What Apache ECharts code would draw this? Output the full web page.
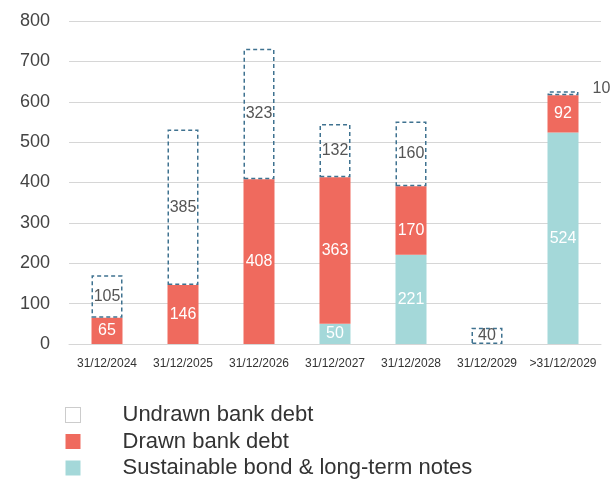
<!DOCTYPE html>
<html>
<head>
<meta charset="utf-8">
<script src="https://cdn.jsdelivr.net/npm/echarts@6/dist/echarts.min.js"></script>
<style>
  html, body { margin: 0; padding: 0; background: #fff; }
  #main { width: 610px; height: 480px; }
</style>
</head>
<body>
<div id="main"></div>
<script>
var categories = ['31/12/2024', '31/12/2025', '31/12/2026', '31/12/2027', '31/12/2028', '31/12/2029', '>31/12/2029'];
var sustainable = [0, 0, 0, 50, 221, 0, 524];
var drawn = [65, 146, 408, 363, 170, 0, 92];
var undrawn = [105, 385, 323, 132, 160, 40, 10];

var font = 'Liberation Sans';

function noZero(arr) {
  return arr.map(function (v) { return v === 0 ? null : v; });
}

// the 170 label sits a bit low in the original
var drawnData = noZero(drawn).map(function (v, i) {
  if (i === 4) return { value: v, label: { offset: [0, 10] } };
  return v;
});

var undrawnData = undrawn.map(function (v, i) {
  if (i === undrawn.length - 1) {
    return {
      value: v,
      label: { position: 'right', distance: 14, offset: [0, -5] }
    };
  }
  return v;
});

var chart = echarts.init(document.getElementById('main'));
var option = {
  animation: false,
  textStyle: { fontFamily: font },
  grid: { left: 69, right: 9, top: 21, bottom: 136 },
  legend: {
    orient: 'vertical',
    left: 65,
    top: 404,
    height: 200,
    padding: 0,
    itemWidth: 15,
    itemHeight: 15,
    itemGap: 4.5,
    textStyle: { fontSize: 22, color: '#333', padding: [0, 0, 0, 37], fontFamily: font },
    data: [
      { name: 'Undrawn bank debt', icon: 'rect', itemStyle: { color: '#fff', borderColor: '#999', borderWidth: 1, borderType: 'dotted' } },
      { name: 'Drawn bank debt', icon: 'rect' },
      { name: 'Sustainable bond & long-term notes', icon: 'rect' }
    ]
  },
  xAxis: {
    type: 'category',
    data: categories,
    axisLine: { lineStyle: { color: '#d6d6d6' } },
    axisTick: { show: false },
    axisLabel: { fontSize: 12, color: '#333', margin: 14, interval: 0 }
  },
  yAxis: {
    type: 'value',
    min: 0,
    max: 800,
    interval: 100,
    axisLabel: { fontSize: 18, color: '#444', margin: 19 },
    splitLine: { lineStyle: { color: '#d6d6d6' } }
  },
  series: [
    {
      name: 'Sustainable bond & long-term notes',
      type: 'bar',
      stack: 'debt',
      barWidth: 31,
      data: noZero(sustainable),
      itemStyle: { color: '#a4d8d9' },
      label: { show: true, position: 'inside', color: '#fff', fontSize: 16 }
    },
    {
      name: 'Drawn bank debt',
      type: 'bar',
      stack: 'debt',
      barWidth: 31,
      data: drawnData,
      itemStyle: { color: '#ef6a5e' },
      label: { show: true, position: 'inside', color: '#fff', fontSize: 16 }
    },
    {
      name: 'Undrawn bank debt',
      type: 'bar',
      stack: 'debt',
      barWidth: 31,
      data: undrawnData,
      itemStyle: {
        color: 'rgba(255,255,255,0)',
        borderColor: '#3f7290',
        borderWidth: 1.5,
        borderType: [4, 3]
      },
      label: { show: true, position: 'inside', color: '#555', fontSize: 16 }
    }
  ]
};
chart.setOption(option);
</script>
</body>
</html>
